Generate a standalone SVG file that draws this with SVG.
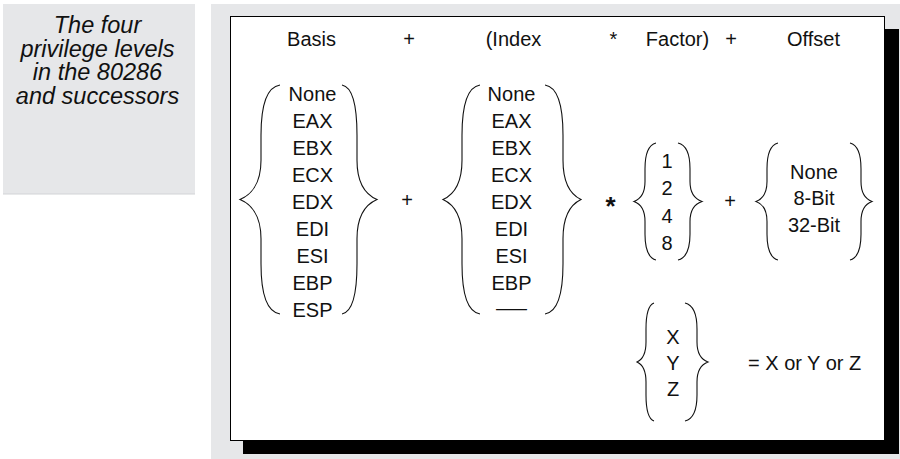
<svg xmlns="http://www.w3.org/2000/svg" width="900" height="459" viewBox="0 0 900 459">
<style>
.t{font-family:"Liberation Sans",Arial,sans-serif;font-size:20px;fill:#111;text-anchor:middle}
.s{text-anchor:start}
.cap{font-family:"Liberation Sans",Arial,sans-serif;font-size:23.5px;font-style:italic;fill:#111;text-anchor:middle}
.br{fill:none;stroke:#111;stroke-width:1.1}
</style>
<rect x="0" y="0" width="900" height="459" fill="#ffffff"/>
<g id="caption">
<rect x="3" y="4" width="192" height="190" fill="#e6e7e9"/>
<line x1="3" y1="194" x2="195" y2="194" stroke="#d2d3d6" stroke-width="1"/>
<text class="cap" x="97.5" y="33">The four</text>
<text class="cap" x="97.5" y="56.5">privilege levels</text>
<text class="cap" x="97.5" y="80">in the 80286</text>
<text class="cap" x="97.5" y="103.5">and successors</text>
</g>
<g id="panel">
<rect x="211" y="4" width="689" height="455" fill="#e6e7e9"/>
<rect x="243" y="29" width="656" height="425" fill="#000"/>
<rect x="230.5" y="16.5" width="654" height="424" fill="#fff" stroke="#000" stroke-width="1"/>
</g>
<g id="header">
<text class="t" x="311.5" y="45.5">Basis</text>
<text class="t" x="409" y="45.5">+</text>
<text class="t" x="513.5" y="45.5">(Index</text>
<text class="t" x="613.5" y="45.5">*</text>
<text class="t" x="677.5" y="45.5">Factor)</text>
<text class="t" x="731" y="45.5">+</text>
<text class="t" x="813.5" y="45.5">Offset</text>
</g>
<g id="basis">
<path class="br" d="M280,85 C266.7,87 261,105.5 261,135.2 L261,160.2 C261,185.3 249.5,195.6 240,199.5 C249.5,203.4 261,213.7 261,238.8 L261,263.8 C261,293.5 266.7,312 280,314"/>
<path class="br" d="M342,85 C352.5,87 357,105.5 357,135.2 L357,160.2 C357,185.3 368,195.6 377,199.5 C368,203.4 357,213.7 357,238.8 L357,263.8 C357,293.5 352.5,312 342,314"/>
<text class="t" x="312.5" y="100.5">None</text>
<text class="t" x="312.5" y="127.5">EAX</text>
<text class="t" x="312.5" y="154.5">EBX</text>
<text class="t" x="312.5" y="181.5">ECX</text>
<text class="t" x="312.5" y="208.5">EDX</text>
<text class="t" x="312.5" y="235.5">EDI</text>
<text class="t" x="312.5" y="262.5">ESI</text>
<text class="t" x="312.5" y="289.5">EBP</text>
<text class="t" x="312.5" y="316.5">ESP</text>
</g>
<g id="plus1">
<text class="t" x="407" y="206.8">+</text>
</g>
<g id="index">
<path class="br" d="M480,85 C467.4,87 462,105.5 462,135.2 L462,160.2 C462,185.3 451.6,195.6 443,199.5 C451.6,203.4 462,213.7 462,238.8 L462,263.8 C462,293.5 467.4,312 480,314"/>
<path class="br" d="M545,85 C557.6,87 563,105.5 563,135.2 L563,160.2 C563,185.3 572.9,195.6 581,199.5 C572.9,203.4 563,213.7 563,238.8 L563,263.8 C563,293.5 557.6,312 545,314"/>
<text class="t" x="511.5" y="100.5">None</text>
<text class="t" x="511.5" y="127.5">EAX</text>
<text class="t" x="511.5" y="154.5">EBX</text>
<text class="t" x="511.5" y="181.5">ECX</text>
<text class="t" x="511.5" y="208.5">EDX</text>
<text class="t" x="511.5" y="235.5">EDI</text>
<text class="t" x="511.5" y="262.5">ESI</text>
<text class="t" x="511.5" y="289.5">EBP</text>
<text class="t" x="511.5" y="315" textLength="31" lengthAdjust="spacingAndGlyphs">—</text>
</g>
<g id="times">
<text class="t" x="610.5" y="215" style="font-size:26px;font-weight:bold">*</text>
</g>
<g id="factor">
<path class="br" d="M656,143 C648.3,145 645,153.5 645,168.7 L645,181.6 C645,194.5 639,199.7 634,201.5 C639,203.3 645,208.5 645,221.4 L645,234.3 C645,249.5 648.3,258 656,260"/>
<path class="br" d="M678,143 C686.4,145 690,153.5 690,168.7 L690,181.6 C690,194.5 696.6,199.7 702,201.5 C696.6,203.3 690,208.5 690,221.4 L690,234.3 C690,249.5 686.4,258 678,260"/>
<text class="t" x="667" y="168">1</text>
<text class="t" x="667" y="195.3">2</text>
<text class="t" x="667" y="222.6">4</text>
<text class="t" x="667" y="249.9">8</text>
</g>
<g id="plus2">
<text class="t" x="730" y="208.3">+</text>
</g>
<g id="offset">
<path class="br" d="M778,143 C770.3,145 767,153.5 767,168.7 L767,181.6 C767,194.5 761,199.7 756,201.5 C761,203.3 767,208.5 767,221.4 L767,234.3 C767,249.5 770.3,258 778,260"/>
<path class="br" d="M850,143 C857.7,145 861,153.5 861,168.7 L861,181.6 C861,194.5 867,199.7 872,201.5 C867,203.3 861,208.5 861,221.4 L861,234.3 C861,249.5 857.7,258 850,260"/>
<text class="t" x="814" y="179">None</text>
<text class="t" x="814" y="205">8-Bit</text>
<text class="t" x="814" y="231.5">32-Bit</text>
</g>
<g id="legend">
<path class="br" d="M654,303 C648.4,305 646,313.6 646,329 L646,342 C646,354.9 641,360.2 637,362 C641,363.8 646,369.1 646,382 L646,395 C646,410.4 648.4,419 654,421"/>
<path class="br" d="M685,303 C693.4,305 697,313.6 697,329 L697,342 C697,354.9 703,360.2 708,362 C703,363.8 697,369.1 697,382 L697,395 C697,410.4 693.4,419 685,421"/>
<text class="t" x="673" y="343.5">X</text>
<text class="t" x="673" y="369.5">Y</text>
<text class="t" x="673" y="395.5">Z</text>
<text class="t s" x="748" y="370">= X or Y or Z</text>
</g>
<g id="connectors"></g>
</svg>
